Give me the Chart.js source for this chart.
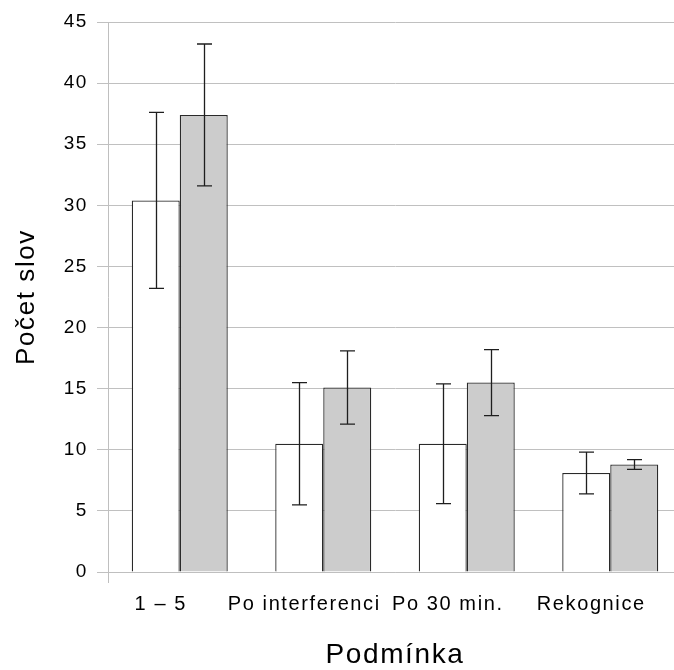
<!DOCTYPE html>
<html>
<head>
<meta charset="utf-8">
<script src="https://cdn.jsdelivr.net/npm/chart.js@4/dist/chart.umd.min.js"></script>
<style>
  html, body { margin: 0; padding: 0; background: #fff; overflow: hidden; }
  #wrap { width: 684px; height: 670px; }
</style>
</head>
<body>
<div id="wrap"><canvas id="c" width="684" height="670"></canvas></div>
<script>
const categories = ['1 – 5', 'Po interferenci', 'Po 30 min.', 'Rekognice'];
const seriesA = [30.4, 10.5, 10.5, 8.1];
const errorsA = [7.2, 5.0, 4.9, 1.7];
const seriesB = [37.4, 15.1, 15.5, 8.8];
const errorsB = [5.8, 3.0, 2.7, 0.4];
const yTicks = [0, 5, 10, 15, 20, 25, 30, 35, 40, 45];

const errorBars = {
  id: 'errorBars',
  afterDatasetsDraw(chart) {
    const ctx = chart.ctx;
    const y = chart.scales.y;
    const errs = [errorsA, errorsB];
    ctx.save();
    ctx.strokeStyle = '#1e1e1e';
    ctx.lineWidth = 1.3;
    chart.data.datasets.forEach((ds, di) => {
      const meta = chart.getDatasetMeta(di);
      meta.data.forEach((bar, i) => {
        const v = ds.data[i], e = errs[di][i];
        const x = Math.round(bar.x) + 0.5;
        const yt = y.getPixelForValue(v + e);
        const yb = y.getPixelForValue(v - e);
        ctx.beginPath();
        ctx.moveTo(x, yt); ctx.lineTo(x, yb);
        ctx.moveTo(x - 7.5, yt); ctx.lineTo(x + 7.5, yt);
        ctx.moveTo(x - 7.5, yb); ctx.lineTo(x + 7.5, yb);
        ctx.stroke();
      });
    });
    ctx.restore();
  }
};

const spacing = {
  id: 'spacing',
  beforeDraw(chart) { chart.ctx.letterSpacing = '1.6px'; }
};

new Chart(document.getElementById('c'), {
  type: 'bar',
  data: {
    labels: categories,
    datasets: [
      { data: seriesA, backgroundColor: '#ffffff', borderColor: '#2a2a2a', borderWidth: 1.3,
        categoryPercentage: 0.669, barPercentage: 1 },
      { data: seriesB, backgroundColor: '#cccccc', borderColor: '#2a2a2a', borderWidth: 1.3,
        categoryPercentage: 0.669, barPercentage: 1 }
    ]
  },
  options: {
    responsive: false,
    animation: false,
    layout: { padding: { top: 22, left: 7, right: 2, bottom: 0 } },
    plugins: { legend: { display: false }, tooltip: { enabled: false } },
    scales: {
      x: {
        grid: {
          drawOnChartArea: false,
          tickLength: 11,
          color: (c) => (c.index === 0 ? '#bfbfbf' : 'rgba(0,0,0,0)')
        },
        border: { color: '#bfbfbf' },
        ticks: {
          color: '#000',
          font: { family: 'Liberation Sans, Arial', size: 20 },
          padding: 9,
          labelOffset: -19,
          maxRotation: 0,
          autoSkip: false
        },
        title: {
          display: true,
          text: 'Podmínka',
          color: '#000',
          font: { family: 'Liberation Sans, Arial', size: 28, lineHeight: 1 },
          padding: { top: 0, bottom: 1 }
        },
        afterFit(s) { s.height = 98; }
      },
      y: {
        min: 0, max: 45,
        afterBuildTicks(s) { s.ticks = yTicks.map(v => ({ value: v })); },
        grid: { color: '#c0c0c0', tickLength: 11 },
        border: { color: '#bfbfbf' },
        ticks: {
          color: '#000',
          font: { family: 'Liberation Sans, Arial', size: 19 },
          padding: 9
        },
        title: {
          display: true,
          text: 'Počet slov',
          color: '#000',
          font: { family: 'Liberation Sans, Arial', size: 26 },
          padding: { top: 4, bottom: 0 }
        },
        afterFit(s) { s.width = 101; }
      }
    }
  },
  plugins: [spacing, errorBars]
});
</script>
</body>
</html>
